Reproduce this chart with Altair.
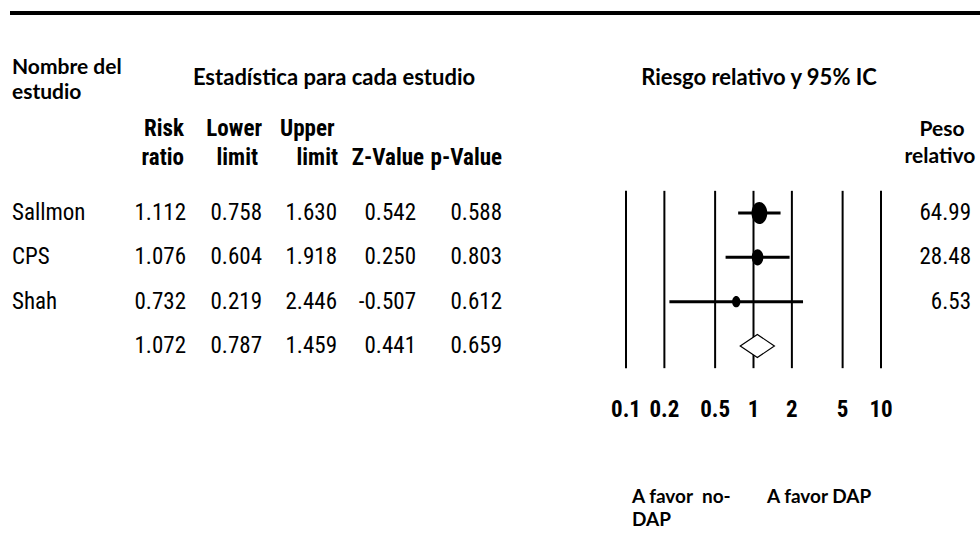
import altair as alt
import pandas as pd

# ---- data ----
studies = ["Sallmon", "CPS", "Shah", ""]
risk_ratio = [1.112, 1.076, 0.732, 1.072]
lower_limit = [0.758, 0.604, 0.219, 0.787]
upper_limit = [1.630, 1.918, 2.446, 1.459]
z_value = [0.542, 0.250, -0.507, 0.441]
p_value = [0.588, 0.803, 0.612, 0.659]
weights = [64.99, 28.48, 6.53]
tick_values = [0.1, 0.2, 0.5, 1, 2, 5, 10]
tick_labels = ["0.1", "0.2", "0.5", "1", "2", "5", "10"]

rows = list(range(len(studies)))
table = pd.DataFrame({
    "row": rows,
    "study": studies,
    "rr": [f"{v:.3f}" for v in risk_ratio],
    "lo": [f"{v:.3f}" for v in lower_limit],
    "hi": [f"{v:.3f}" for v in upper_limit],
    "z": [f"{v:.3f}" for v in z_value],
    "p": [f"{v:.3f}" for v in p_value],
})
studies_df = pd.DataFrame({
    "row": rows[:3],
    "rr": risk_ratio[:3],
    "lo": lower_limit[:3],
    "hi": upper_limit[:3],
    "w": weights,
    "wtxt": [f"{w:.2f}" for w in weights],
})
half = 0.26
s = 3
diamond = pd.DataFrame({
    "x": [lower_limit[s], risk_ratio[s], upper_limit[s]],
    "ytop": [s, s - half, s],
    "ybot": [s, s + half, s],
})
ticks = pd.DataFrame({"v": tick_values, "lab": tick_labels})

NARROW = "Liberation Sans Narrow, Arial Narrow, Roboto Condensed, Liberation Sans, sans-serif"
HEAD = "Lato, Carlito, Calibri, sans-serif"

xs = alt.Scale(type="log", domain=[0.1, 10], range=[626, 881])
ys = alt.Scale(domain=[0, 3], range=[213, 346])

base_t = alt.Chart(table)

def col(field, xpos, align="right"):
    return base_t.mark_text(font=NARROW, fontSize=23, align=align, baseline="middle", color="black").encode(
        x=alt.value(xpos), y=alt.Y("row:Q", scale=ys, axis=None), text=f"{field}:N")

layers = []
layers.append(col("study", 12, "left"))
layers.append(col("rr", 186))
layers.append(col("lo", 262))
layers.append(col("hi", 337))
layers.append(col("z", 416))
layers.append(col("p", 502))

def txt(t, x, y, font=HEAD, size=21, weight="bold", align="left"):
    return alt.Chart(pd.DataFrame({"t": [t]})).mark_text(
        font=font, fontSize=size, fontWeight=weight, align=align, baseline="middle", color="black"
    ).encode(x=alt.value(x), y=alt.value(y), text="t:N")

# headers
layers += [
    txt("Nombre del", 12, 68),
    txt("estudio", 12, 93),
    txt("Estadística para cada estudio", 334, 78, size=22, align="center"),
    txt("Riesgo relativo y 95% IC", 759, 78, size=22, align="center"),
    txt("Peso", 942, 130, align="center"),
    txt("relativo", 940, 157, align="center"),
    txt("Risk", 184, 129, NARROW, 23, align="right"),
    txt("ratio", 184, 158, NARROW, 23, align="right"),
    txt("Lower", 262, 129, NARROW, 23, align="right"),
    txt("limit", 258, 158, NARROW, 23, align="right"),
    txt("Upper", 280, 129, NARROW, 23, align="left"),
    txt("limit", 338, 158, NARROW, 23, align="right"),
    txt("Z-Value", 424, 158, NARROW, 23, align="right"),
    txt("p-Value", 502, 158, NARROW, 23, align="right"),
    txt("A favor\u00a0 no-", 632, 497, size=19),
    txt("DAP", 632, 520, size=19),
    txt("A favor DAP", 767, 497, size=19),
]

# top rule
layers.append(alt.Chart(pd.DataFrame({"a": [0]})).mark_rule(color="black", strokeWidth=4).encode(
    x=alt.value(10), x2=alt.value(980), y=alt.value(13)))

# vertical reference lines
layers.append(alt.Chart(ticks).mark_rule(color="black", strokeWidth=2).encode(
    x=alt.X("v:Q", scale=xs, axis=None),
    y=alt.Y(datum=-0.5, scale=ys, axis=None),
    y2=alt.Y2(datum=3.5)))

# tick labels
layers.append(alt.Chart(ticks).mark_text(font=NARROW, fontSize=23, fontWeight="bold", baseline="middle", color="black").encode(
    x=alt.X("v:Q", scale=xs, axis=None), y=alt.value(410), text="lab:N"))

# CIs
layers.append(alt.Chart(studies_df).mark_rule(color="black", strokeWidth=3).encode(
    x=alt.X("lo:Q", scale=xs, axis=None), x2="hi:Q", y=alt.Y("row:Q", scale=ys, axis=None)))

ellipse = "M -0.72,0 A 0.72,1 0 1,0 0.72,0 A 0.72,1 0 1,0 -0.72,0 Z"
layers.append(alt.Chart(studies_df).mark_point(shape=ellipse, filled=True, color="black", opacity=1).encode(
    x=alt.X("rr:Q", scale=xs, axis=None), y=alt.Y("row:Q", scale=ys, axis=None),
    size=alt.Size("w:Q", scale=alt.Scale(domain=[0, 65], range=[90, 480]), legend=None)))

# diamond
layers.append(alt.Chart(diamond).mark_area(fill="white", stroke="black", strokeWidth=1.2, opacity=1).encode(
    x=alt.X("x:Q", scale=xs, axis=None),
    y=alt.Y("ytop:Q", scale=ys, axis=None), y2="ybot:Q"))

# weights
layers.append(alt.Chart(studies_df).mark_text(font=NARROW, fontSize=23, align="right", baseline="middle", color="black").encode(
    x=alt.value(971), y=alt.Y("row:Q", scale=ys, axis=None), text="wtxt:N"))

chart = alt.layer(*layers).properties(
    width=980, height=551, padding=0, autosize=alt.AutoSizeParams(type="none"), background="white"
).configure_view(stroke=None)

chart.save("out.html", embed_options={"renderer": "svg", "actions": False})
